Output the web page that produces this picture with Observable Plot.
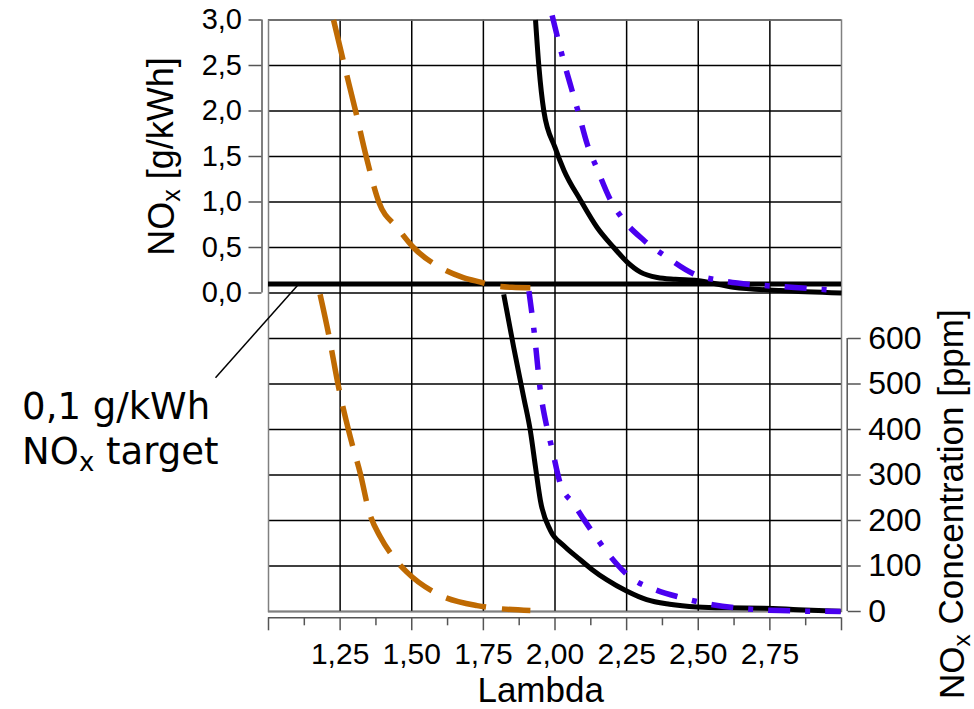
<!DOCTYPE html>
<html>
<head>
<meta charset="utf-8">
<script src="https://cdn.jsdelivr.net/npm/d3@7"></script>
<script src="https://cdn.jsdelivr.net/npm/@observablehq/plot@0.6"></script>
<style>
  html, body { margin: 0; padding: 0; background: #fff; }
  svg { display: block; }
</style>
</head>
<body>
<div id="chart"></div>
<script>
// ---------- tick definitions ----------
const topTicks = [0, 0.5, 1, 1.5, 2, 2.5, 3];
const topTickLabels = ["0,0", "0,5", "1,0", "1,5", "2,0", "2,5", "3,0"];
const ppmTicks = [0, 100, 200, 300, 400, 500, 600];
const lambdaTicks = [1, 1.25, 1.5, 1.75, 2, 2.25, 2.5, 2.75, 3];
const lambdaTickLabels = ["", "1,25", "1,50", "1,75", "2,00", "2,25", "2,50", "2,75", ""];
const lambdaMinorTicks = [1.125, 1.375, 1.625, 1.875, 2.125, 2.375, 2.625, 2.875];

// ---------- texts ----------
const xLabel = "Lambda";
const yLabelTop = "NOx [g/kWh]";
const yLabelBottom = "NOx Concentration [ppm]";
const targetLabel1 = "0,1 g/kWh";
const targetLabel2 = "NOx target";

// ---------- series: NOx in g/kWh (upper panel) ----------
const lambdaOrangeTop = [1.227, 1.265, 1.304, 1.341, 1.385, 1.449, 1.506, 1.60, 1.68, 1.74, 1.786, 1.85, 1.914];
const noxOrangeTop    = [3.0, 2.5, 2.0, 1.5, 1.0, 0.72, 0.50, 0.28, 0.17, 0.119, 0.082, 0.062, 0.057];

const lambdaBlackTop = [1.932, 1.944, 1.961, 2.0, 2.031, 2.089, 2.147, 2.205, 2.252, 2.298, 2.357, 2.42, 2.496, 2.623, 2.787, 3.0];
const noxBlackTop    = [3.0, 2.48, 2.0, 1.60, 1.35, 1.02, 0.72, 0.50, 0.34, 0.23, 0.17, 0.15, 0.137, 0.064, 0.027, 0.0];

const lambdaBlueTop = [1.99, 2.025, 2.06, 2.083, 2.112, 2.147, 2.194, 2.24, 2.31, 2.392, 2.484, 2.578, 2.682, 2.787, 2.903, 2.997];
const noxBlueTop    = [3.05, 2.61, 2.22, 1.97, 1.64, 1.365, 1.02, 0.80, 0.58, 0.39, 0.21, 0.137, 0.093, 0.071, 0.046, 0.027];

// target
const targetLambda = [1, 3];
const targetNox = 0.1;

// ---------- series: NOx concentration in ppm (lower panel) ----------
const lambdaOrangeBot = [1.18, 1.21, 1.245, 1.286, 1.321, 1.35, 1.391, 1.437, 1.484, 1.589, 1.728, 1.914];
const ppmOrangeBot    = [697, 609, 492, 382, 302, 222, 163, 119, 86, 39, 13, 2];

const lambdaBlackBot = [1.821, 1.856, 1.891, 1.914, 1.932, 1.949, 1.984, 2.03, 2.08, 2.13, 2.18, 2.25, 2.32, 2.40, 2.496, 2.60, 2.729, 2.85, 2.997];
const ppmBlackBot    = [697, 580, 470, 397, 317, 244, 178, 145, 118, 92, 70, 45, 26, 16, 10, 8, 7.3, 4, 0.7];

const lambdaBlueBot = [1.909, 1.927, 1.949, 1.972, 1.99, 2.019, 2.066, 2.1, 2.136, 2.182, 2.263, 2.35, 2.438, 2.55, 2.647, 2.787, 2.997];
const ppmBlueBot    = [704, 616, 485, 404, 357, 280, 236, 203, 170, 130, 75, 48, 31, 15, 7, 2, 0];

// annotation (leader line in data units of the upper panel)
const leader = [{x1: 0.815, y1: -0.93, x2: 1.105, y2: 0.095}];

// ---------- styling ----------
const ORANGE = "#bf6a02";
const BLUE = "#4a00f0";
const AXIS = "#555";

// lower panel (0..600 ppm) shares the vertical scale: 0 ppm -> -3.5, 600 ppm -> -0.5
const ppmToY = p => -3.5 + p / 200;

const zip = (xs, ys, f = v => v) => xs.map((x, i) => ({x, y: f(ys[i])}));

const seriesTop = [
  {data: zip(lambdaOrangeTop, noxOrangeTop), stroke: ORANGE, dash: "41,16", w: 5.5},
  {data: zip(lambdaBlackTop, noxBlackTop), stroke: "#000", dash: null, w: 5},
  {data: zip(lambdaBlueTop, noxBlueTop), stroke: BLUE, dash: "22,15,5,15", w: 5.5}
];
const seriesBot = [
  {data: zip(lambdaOrangeBot, ppmOrangeBot, ppmToY), stroke: ORANGE, dash: "41,16", w: 5.5},
  {data: zip(lambdaBlackBot, ppmBlackBot, ppmToY), stroke: "#000", dash: null, w: 5},
  {data: zip(lambdaBlueBot, ppmBlueBot, ppmToY), stroke: BLUE, dash: "22,15,5,15", w: 5.5}
];

const hGrid = topTicks.concat(ppmTicks.map(ppmToY));
const vGrid = lambdaTicks.slice(1, -1);

const lineMark = s => Plot.line(s.data, {
  x: "x", y: "y", stroke: s.stroke, strokeWidth: s.w,
  strokeDasharray: s.dash, curve: "monotone-x", strokeLinecap: "butt"
});

const chart = Plot.plot({
  width: 974,
  height: 709,
  marginLeft: 268,
  marginRight: 133,
  marginTop: 19.5,
  marginBottom: 98,
  x: {domain: [1, 3], axis: null},
  y: {domain: [-3.5, 3], axis: null},
  style: {background: "white", color: "black", fontFamily: "'Liberation Sans', Arial, sans-serif", fontSize: "25px"},
  marks: [
    // grid and frame
    Plot.ruleX(vGrid, {y1: -3.5, y2: 3, stroke: "#000", strokeWidth: 1.5}),
    Plot.ruleY(hGrid, {x1: 1, x2: 3, stroke: "#000", strokeWidth: 1.5}),
    Plot.frame({stroke: "#808080", strokeWidth: 1.5}),

    // 0.1 g/kWh target
    Plot.ruleY([targetNox], {x1: targetLambda[0], x2: targetLambda[1], stroke: "#000", strokeWidth: 5}),

    // curves
    ...seriesTop.map(lineMark),
    ...seriesBot.map(lineMark),

    // left axis (g/kWh)
    Plot.ruleX([1], {y1: 0, y2: 3, dx: -6.5, stroke: AXIS, strokeWidth: 1.5}),
    Plot.axisY(topTicks, {anchor: "left", dx: -6.5, tickSize: 13, tickPadding: 7,
      tickFormat: d => topTickLabels[topTicks.indexOf(d)], fontSize: 29, stroke: AXIS, strokeWidth: 1.5, label: null}),

    // right axis (ppm)
    Plot.ruleX([3], {y1: ppmToY(0), y2: ppmToY(600), dx: 5.7, stroke: AXIS, strokeWidth: 1.5}),
    Plot.axisY(ppmTicks.map(ppmToY), {anchor: "right", dx: 5.7, tickSize: 13, tickPadding: 8,
      tickFormat: d => String(Math.round((d + 3.5) * 200)), fontSize: 32, stroke: AXIS, strokeWidth: 1.5, label: null}),

    // bottom axis (lambda)
    Plot.ruleY([-3.5], {x1: 1, x2: 3, dy: 6.3, stroke: AXIS, strokeWidth: 1.5}),
    Plot.axisX(lambdaTicks, {anchor: "bottom", dy: 6.3, tickSize: 13, tickPadding: 11.5,
      tickFormat: d => lambdaTickLabels[lambdaTicks.indexOf(d)], fontSize: 30, stroke: AXIS, strokeWidth: 1.5, label: null}),
    Plot.axisX(lambdaMinorTicks, {anchor: "bottom", dy: 6.3, tickSize: 8,
      tickFormat: () => "", stroke: AXIS, strokeWidth: 1.5, label: null}),

    // axis titles
    Plot.text([xLabel], {text: d => d, x: [1.95], frameAnchor: "bottom", dy: 90.5, lineAnchor: "bottom", fontSize: 35}),
    Plot.text([yLabelTop], {text: d => d, y: [1.5], frameAnchor: "left", dx: -95, rotate: -90,
      lineAnchor: "bottom", textAnchor: "middle", fontSize: 36}),
    Plot.text([yLabelBottom], {text: d => d, y: [-2.32], frameAnchor: "right", dx: 122, rotate: -90,
      lineAnchor: "bottom", textAnchor: "middle", fontSize: 35}),

    // annotation
    Plot.link(leader, {x1: "x1", y1: "y1", x2: "x2", y2: "y2", stroke: "#000", strokeWidth: 1.5}),
    Plot.text([targetLabel1], {text: d => d, x: [0.14], y: [-1.38], textAnchor: "start", lineAnchor: "bottom",
      fontSize: 37, fontFamily: "'DejaVu Sans', Verdana, sans-serif"}),
    Plot.text([targetLabel2], {text: d => d, x: [0.14], y: [-1.875], textAnchor: "start", lineAnchor: "bottom",
      fontSize: 37, fontFamily: "'DejaVu Sans', Verdana, sans-serif"})
  ]
});

// render "NOx" with a subscript x
chart.querySelectorAll("text").forEach(t => {
  const s = t.textContent;
  if (s.startsWith("NOx")) {
    while (t.firstChild) t.removeChild(t.firstChild);
    const ns = "http://www.w3.org/2000/svg";
    const a = document.createElementNS(ns, "tspan"); a.textContent = "NO";
    const b = document.createElementNS(ns, "tspan"); b.textContent = "x";
    b.setAttribute("font-size", "70%"); b.setAttribute("dy", "0.27em");
    const c = document.createElementNS(ns, "tspan"); c.textContent = s.slice(3);
    c.setAttribute("dy", "-0.19em");
    t.appendChild(a); t.appendChild(b); t.appendChild(c);
  }
});

document.getElementById("chart").appendChild(chart);
</script>
</body>
</html>
